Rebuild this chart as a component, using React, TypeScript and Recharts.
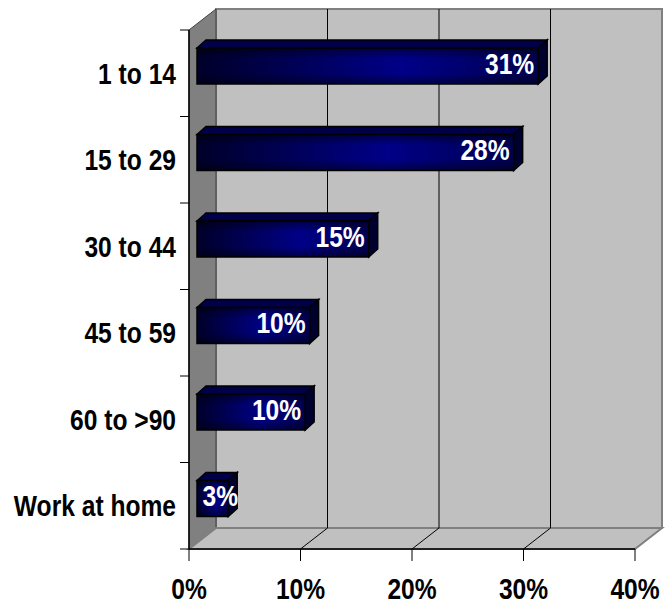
import React from 'react';
import { BarChart, Bar, XAxis, YAxis, CartesianGrid } from 'recharts';

const categories = ['1 to 14', '15 to 29', '30 to 44', '45 to 59', '60 to >90', 'Work at home'];
const shares = [30.6, 28.4, 15.4, 10.1, 9.7, 2.8];
const xTicks = [0, 10, 20, 30, 40];

const data = categories.map((name, i) => ({ name, value: shares[i] }));

const W = 665;
const H = 605;
// front plane of the plot
const LEFT = 189;
const RIGHT = 635;
const TOP = 30;
const BOTTOM = 549;
// depth of the 3d walls
const DX = 27;
const DY = 21;
const FONT = "'Liberation Sans', Arial, sans-serif";
const NARROW = 0.82; // squeeze to look like Arial Narrow

const Walls = () => {
  const band = (BOTTOM - TOP) / categories.length;
  const bounds = Array.from({ length: categories.length + 1 }, (_, i) => TOP + i * band);
  return (
    <svg width={W} height={H} style={{ position: 'absolute', left: 0, top: 0 }}>
      <defs>
        <linearGradient id="barFront" x1="0" y1="0" x2="1" y2="0">
          <stop offset="0%" stopColor="#00002a" />
          <stop offset="60%" stopColor="#000088" />
          <stop offset="100%" stopColor="#000050" />
        </linearGradient>
        <linearGradient id="barShade" x1="0" y1="0" x2="0" y2="1">
          <stop offset="0%" stopColor="#000" stopOpacity={0.45} />
          <stop offset="30%" stopColor="#000" stopOpacity={0} />
          <stop offset="70%" stopColor="#000" stopOpacity={0} />
          <stop offset="100%" stopColor="#000" stopOpacity={0.45} />
        </linearGradient>
      </defs>
      <rect x={LEFT + DX} y={TOP - DY} width={RIGHT - LEFT} height={BOTTOM - TOP} fill="#c0c0c0" stroke="#808080" strokeWidth={2} />
      <polygon
        points={`${LEFT},${TOP} ${LEFT + DX},${TOP - DY} ${LEFT + DX},${BOTTOM - DY} ${LEFT},${BOTTOM}`}
        fill="#808080"
        stroke="#404040"
        strokeWidth={1}
      />
      <polygon
        points={`${LEFT},${BOTTOM} ${LEFT + DX},${BOTTOM - DY} ${RIGHT + DX},${BOTTOM - DY} ${RIGHT},${BOTTOM}`}
        fill="#c0c0c0"
        stroke="#808080"
        strokeWidth={2}
      />
      {bounds.map((b, i) => (
        <line key={i} x1={LEFT - 9} y1={b} x2={LEFT} y2={b} stroke="#000" strokeWidth={1} />
      ))}
    </svg>
  );
};

const gridLine = (props: any) => {
  const { x1, y1, y2 } = props;
  if (Math.abs(x1 - LEFT) < 1 || Math.abs(x1 - RIGHT) < 1) return <g key={`g-${x1}`} />;
  return (
    <g key={`g-${x1}`}>
      <line x1={x1 + DX} y1={y1 - DY} x2={x1 + DX} y2={y2 - DY} stroke="#000" strokeWidth={1} />
      <line x1={x1} y1={y2} x2={x1 + DX} y2={y2 - DY} stroke="#000" strokeWidth={1} />
    </g>
  );
};

const XTick = (props: any) => {
  const { x, y, payload } = props;
  return (
    <g transform={`translate(${x},${y})`}>
      <text transform={`scale(${NARROW},1)`} textAnchor="middle" dy="0.71em" fill="#000"
        fontSize={30} fontWeight={700} fontFamily={FONT}>
        {`${payload.value}%`}
      </text>
    </g>
  );
};

const YTick = (props: any) => {
  const { x, y, payload } = props;
  return (
    <g transform={`translate(${x},${y})`}>
      <text transform={`scale(${NARROW},1)`} textAnchor="end" dy="0.355em" fill="#000"
        fontSize={30} fontWeight={700} fontFamily={FONT}>
        {payload.value}
      </text>
    </g>
  );
};

const BoxBar = (props: any) => {
  const { x, y, width, height, payload } = props;
  const fx = x + 8;
  const fy = y - 7;
  const d = 9;
  const dv = 8;
  const label = `${Math.round(payload.value)}%`;
  const textW = label.length === 2 ? 36 : 50;
  const tx = Math.max(fx + width - 4, fx + textW + 5);
  return (
    <g>
      <polygon
        points={`${fx},${fy} ${fx + d},${fy - dv} ${fx + width + d},${fy - dv} ${fx + width},${fy}`}
        fill="#000048"
        stroke="#000"
        strokeWidth={1.5}
      />
      <polygon
        points={`${fx + width},${fy} ${fx + width + d},${fy - dv} ${fx + width + d},${fy + height - dv} ${fx + width},${fy + height}`}
        fill="#00002e"
        stroke="#000"
        strokeWidth={1.5}
      />
      <rect x={fx} y={fy} width={width} height={height} fill="url(#barFront)" />
      <rect x={fx} y={fy} width={width} height={height} fill="url(#barShade)" stroke="#000" strokeWidth={1.5} />
      <g transform={`translate(${tx},${fy + height / 2 - 3})`}>
        <text
          transform={`scale(${NARROW},1)`}
          textAnchor="end"
          dy="0.355em"
          fill="#fff"
          fontSize={30}
          fontWeight={700}
          fontFamily={FONT}
        >
          {label}
        </text>
      </g>
    </g>
  );
};

export default function App() {
  return (
    <div style={{ position: 'absolute', left: 0, top: 0, width: W, height: H }}>
      <Walls />
      <div style={{ position: 'relative' }}>
        <BarChart
          width={W}
          height={H}
          data={data}
          layout="vertical"
          margin={{ top: TOP, right: W - RIGHT, bottom: 0, left: 0 }}
        >
          <CartesianGrid horizontal={false} vertical={gridLine} />
          <XAxis
            type="number"
            domain={[0, 40]}
            ticks={xTicks}
            height={H - BOTTOM}
            tickSize={12}
            tickMargin={17}
            axisLine={{ stroke: '#000', strokeWidth: 1.5 }}
            tickLine={{ stroke: '#000', strokeWidth: 1 }}
            tick={<XTick />}
          />
          <YAxis
            type="category"
            dataKey="name"
            width={LEFT}
            interval={0}
            tickSize={9}
            tickMargin={4}
            tickLine={false}
            axisLine={{ stroke: '#000', strokeWidth: 1.5 }}
            tick={<YTick />}
          />
          <Bar dataKey="value" barSize={36} shape={BoxBar} isAnimationActive={false} />
        </BarChart>
      </div>
    </div>
  );
}
